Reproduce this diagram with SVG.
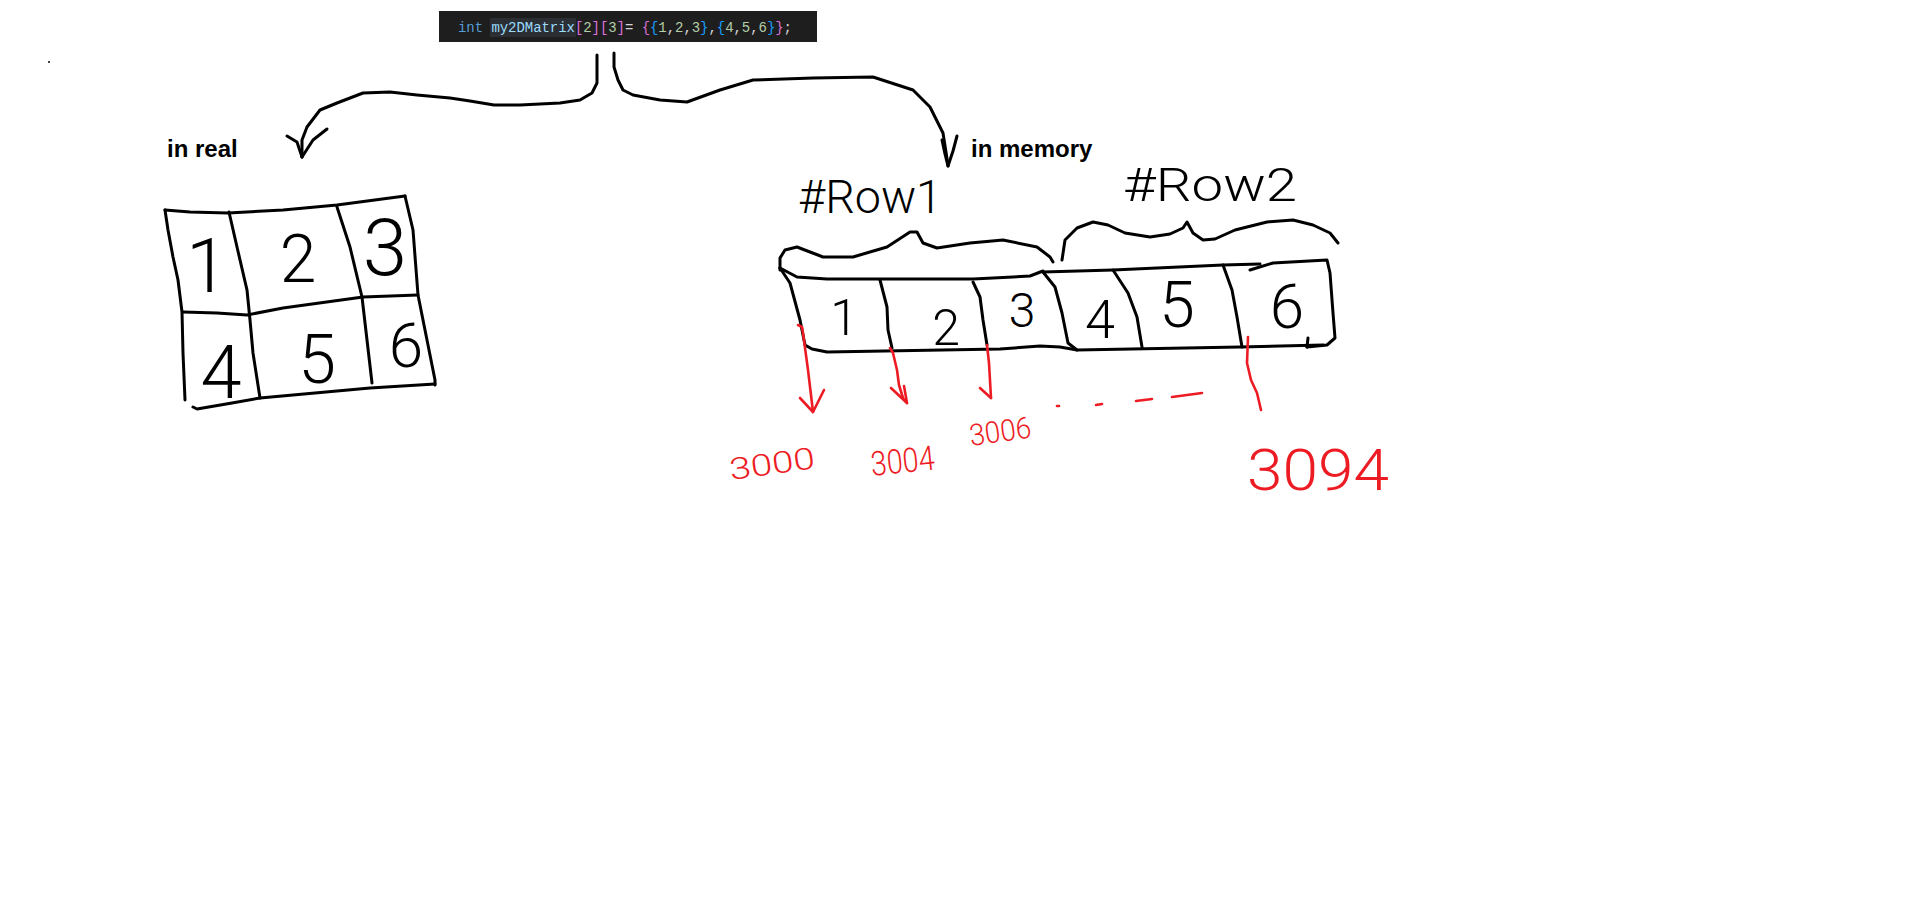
<svg xmlns="http://www.w3.org/2000/svg" width="1914" height="906" viewBox="0 0 1914 906">
<style>
.ink{fill:none;stroke:#000;stroke-width:3;stroke-linecap:round;stroke-linejoin:round}
.red{fill:none;stroke:#ed1c24;stroke-width:2.6;stroke-linecap:round;stroke-linejoin:round}
.lbl{font-family:"Liberation Sans",Arial,sans-serif;font-weight:bold;font-size:24px;fill:#000}
.hand{font-family:Roboto,"Open Sans",Lato,sans-serif;font-weight:300;fill:#000;text-anchor:middle}
.rhand{font-family:Roboto,"Open Sans",Lato,sans-serif;font-weight:300;fill:#ed1c24}
.code{font-family:"Liberation Mono","DejaVu Sans Mono",monospace;font-size:14px}
</style>
<rect width="1914" height="906" fill="#fff"/>
<rect x="48" y="61" width="2" height="2" fill="#444"/>

<g id="code">
<rect x="439" y="11" width="378" height="31" fill="#1e1e1e"/>
<rect x="490" y="18" width="86" height="19" fill="#2b2f33"/>
<text class="code" x="458" y="32" textLength="334" lengthAdjust="spacing" xml:space="preserve"><tspan fill="#569cd6">int</tspan><tspan fill="#d4d4d4"> </tspan><tspan fill="#9cdcfe">my2DMatrix</tspan><tspan fill="#da70d6">[</tspan><tspan fill="#b5cea8">2</tspan><tspan fill="#da70d6">][</tspan><tspan fill="#b5cea8">3</tspan><tspan fill="#da70d6">]</tspan><tspan fill="#d4d4d4">= </tspan><tspan fill="#da70d6">{</tspan><tspan fill="#179fff">{</tspan><tspan fill="#b5cea8">1</tspan><tspan fill="#d4d4d4">,</tspan><tspan fill="#b5cea8">2</tspan><tspan fill="#d4d4d4">,</tspan><tspan fill="#b5cea8">3</tspan><tspan fill="#179fff">}</tspan><tspan fill="#d4d4d4">,</tspan><tspan fill="#179fff">{</tspan><tspan fill="#b5cea8">4</tspan><tspan fill="#d4d4d4">,</tspan><tspan fill="#b5cea8">5</tspan><tspan fill="#d4d4d4">,</tspan><tspan fill="#b5cea8">6</tspan><tspan fill="#179fff">}</tspan><tspan fill="#da70d6">}</tspan><tspan fill="#d4d4d4">;</tspan></text>
</g>

<g id="connectors">
<polyline class="ink" points="597,55 597,83 592,93 580,100 560,103 520,105 494,105 470,101 450,98 417,95 390,92 363,93 337,103 320,110 307,127 302,140 302,157"/>
<polyline class="ink" points="287,136 297,142 302,157"/>
<polyline class="ink" points="327,129 313,140 302,157"/>
<polyline class="ink" points="614,53 614,67 618,80 623,90 633,95 660,100 687,102 720,90 753,80 813,78 873,77 913,90 930,107 943,133 948,165"/>
<polyline class="ink" points="942,140 945,154 948,166"/>
<polyline class="ink" points="957,136 953,151 948,166"/>
</g>

<g id="label-real"><text class="lbl" x="167" y="157">in real</text></g>
<g id="label-memory"><text class="lbl" x="971" y="157">in memory</text></g>

<g id="grid-real">
<polyline class="ink" points="165,210 190,212 228,213 283,210 337,205 405,196"/>
<polyline class="ink" points="405,196 413,230 418,295 427,340 435,380 435,385"/>
<polyline class="ink" points="435,384 370,388 260,398 232,403 197,409 193,407"/>
<polyline class="ink" points="165,210 168,230 173,257 178,280 182,312 183,353 185,400"/>
<polyline class="ink" points="229,212 237,247 247,290 250,320 253,353 260,398"/>
<polyline class="ink" points="337,207 350,247 362,297 367,340 372,383"/>
<polyline class="ink" points="183,312 217,313 247,315 283,308 363,297 418,295"/>
<text class="hand" x="207" y="292" font-size="76">1</text>
<text class="hand" x="298" y="282" font-size="66">2</text>
<text class="hand" x="385" y="275" font-size="80">3</text>
<text class="hand" x="221" y="398" font-size="74">4</text>
<text class="hand" x="317" y="383" font-size="68">5</text>
<text class="hand" x="406" y="367" font-size="62">6</text>
</g>

<g id="row1">
<polyline class="ink" points="780,270 780,258 785,250 797,247 810,252 823,257 853,257 887,247 910,232 917,232 923,243 937,248 970,243 1003,240 1037,247 1050,257 1053,262"/>
<text class="hand" x="870" y="213" font-size="46" textLength="144" lengthAdjust="spacingAndGlyphs">#Row1</text>
<polyline class="ink" points="780,268 797,277 827,279 973,279 1030,276 1043,271"/>
<polyline class="ink" points="780,268 790,283 800,320 805,345 812,349 827,352 1000,349 1040,346 1060,347 1077,350"/>
<polyline class="ink" points="880,280 887,307 888,330 892,348"/>
<polyline class="ink" points="973,282 980,297 983,320 987,345"/>
<text class="hand" x="844" y="335" font-size="50">1</text>
<text class="hand" x="946" y="345" font-size="50">2</text>
<text class="hand" x="1022" y="327" font-size="48">3</text>
</g>

<g id="row2">
<polyline class="ink" points="1062,260 1065,240 1077,228 1093,222 1108,225 1125,233 1150,237 1170,234 1183,228 1187,222 1193,233 1203,240 1215,239 1235,230 1267,222 1293,220 1313,225 1330,233 1338,243"/>
<text class="hand" x="1210" y="201" font-size="46" textLength="174" lengthAdjust="spacingAndGlyphs">#Row2</text>
<polyline class="ink" points="1043,272 1055,287 1062,313 1068,343 1077,350 1240,347 1323,345"/>
<polyline class="ink" points="1043,272 1113,270 1223,265 1260,264"/>
<polyline class="ink" points="1250,270 1273,263 1327,260 1330,273 1333,313 1335,338 1327,345 1307,347"/>
<polyline class="ink" points="1308,338 1307,347"/>
<polyline class="ink" points="1113,270 1128,293 1137,317 1142,347"/>
<polyline class="ink" points="1223,265 1232,290 1237,317 1242,347"/>
<text class="hand" x="1100" y="338" font-size="54">4</text>
<text class="hand" x="1177" y="327" font-size="64">5</text>
<text class="hand" x="1287" y="328" font-size="62">6</text>
</g>

<g id="addresses">
<polyline class="red" points="798,325 802,327 803,333 808,370 811,395 813,412"/>
<polyline class="red" points="800,398 813,412 824,390"/>
<polyline class="red" points="890,348 893,353 897,370 899,385 903,398 907,403"/>
<polyline class="red" points="891,388 907,403 904,386"/>
<polyline class="red" points="987,345 989,363 991,398"/>
<polyline class="red" points="980,388 991,398"/>
<polyline class="red" points="1248,337 1247,363 1251,380 1257,393 1261,410"/>
<line class="red" x1="1057" y1="406" x2="1059" y2="406"/>
<line class="red" x1="1096" y1="405" x2="1102" y2="404"/>
<line class="red" x1="1136" y1="401" x2="1152" y2="399"/>
<line class="red" x1="1172" y1="397" x2="1202" y2="393"/>
<text class="rhand" x="731" y="480" font-size="30" textLength="86" lengthAdjust="spacingAndGlyphs" transform="rotate(-8 731 480)">3000</text>
<text class="rhand" x="872" y="476" font-size="34" textLength="64" lengthAdjust="spacingAndGlyphs" transform="rotate(-6 872 476)">3004</text>
<text class="rhand" x="971" y="446" font-size="30" textLength="62" lengthAdjust="spacingAndGlyphs" transform="rotate(-8 971 446)">3006</text>
<text class="rhand" x="1247" y="490" font-size="58" textLength="142" lengthAdjust="spacingAndGlyphs">3094</text>
</g>
</svg>
